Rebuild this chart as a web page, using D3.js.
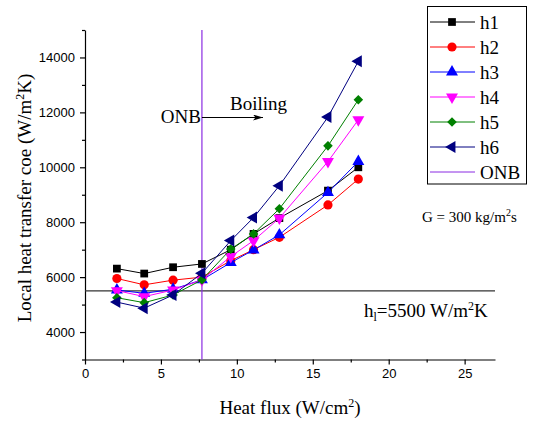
<!DOCTYPE html>
<html>
<head>
<meta charset="utf-8">
<script src="https://cdn.jsdelivr.net/npm/d3@7"></script>
<style>
  html, body { margin: 0; padding: 0; background: #fff; }
  svg { display: block; }
  .serif { font-family: "Liberation Serif", "Times New Roman", serif; fill: #000; }
  .tick text { font-family: "Liberation Sans", Arial, sans-serif; font-size: 13px; fill: #000; }
</style>
</head>
<body>
<svg id="chart" width="536" height="421"></svg>
<script>
// Heat flux (W/cm²) shared by all series
const heatFlux = [2.1, 3.9, 5.8, 7.7, 9.6, 11.1, 12.8, 16.0, 18.0];

// Local heat transfer coefficient (W/m²K) for each measuring position
const h1 = [6310, 6130, 6360, 6480, 7000, 7575, 8150, 9150, 10000];
const h2 = [5950, 5720, 5890, 6000, 6600, 7000, 7450, 8630, 9570];
const h3 = [5530, 5410, 5560, 5900, 6530, 6990, 7540, 9080, 10210];
const h4 = [5510, 5290, 5530, 5900, 6750, 7330, 8150, 10210, 11730];
const h5 = [5250, 5070, 5350, 5900, 7020, 7575, 8490, 10780, 12460];
const h6 = [5090, 4870, 5350, 6140, 7330, 8170, 9330, 11830, 13860];

const seriesNames = ["h1", "h2", "h3", "h4", "h5", "h6"];
const seriesValues = [h1, h2, h3, h4, h5, h6];
const seriesColors = ["#000000", "#ff0000", "#0000ff", "#ff00ff", "#008000", "#000080"];

const onbFlux = 7.7;       // onset of nucleate boiling
const hLiquid = 5500;      // single-phase liquid coefficient
const xTicks = [0, 5, 10, 15, 20, 25];
const yTicks = [4000, 6000, 8000, 10000, 12000, 14000];

const svg = d3.select("#chart");
const x = d3.scaleLinear().domain([0, 27]).range([85, 495]);
const y = d3.scaleLinear().domain([3000, 15000]).range([359.5, 30]);

// marker shapes: square, circle, up, down, diamond (square turned 45°), left-pointing triangle
const markers = [
  { type: d3.symbolSquare, size: 60, rot: 0 },
  { type: d3.symbolCircle, size: 66, rot: 0 },
  { type: d3.symbolTriangle, size: 62, rot: 0 },
  { type: d3.symbolTriangle, size: 62, rot: 180 },
  { type: d3.symbolSquare, size: 46, rot: 45 },
  { type: d3.symbolTriangle, size: 62, rot: -90 }
];

// axes
svg.append("g").attr("transform", `translate(0,${y(3000)})`)
  .call(d3.axisBottom(x).tickValues(xTicks).tickSize(5).tickSizeOuter(0).tickPadding(4));
svg.append("g").attr("transform", `translate(0,${y(3000)})`)
  .call(d3.axisBottom(x).tickValues([2.5, 7.5, 12.5, 17.5, 22.5]).tickSize(3).tickFormat("").tickSizeOuter(0))
  .select(".domain").remove();
svg.append("g").attr("transform", `translate(${x(0)},0)`)
  .call(d3.axisLeft(y).tickValues(yTicks).tickSize(5).tickSizeOuter(0).tickPadding(5).tickFormat(d3.format("d")));
svg.append("g").attr("transform", `translate(${x(0)},0)`)
  .call(d3.axisLeft(y).tickValues([3000, 5000, 7000, 9000, 11000, 13000, 15000]).tickSize(3).tickFormat("").tickSizeOuter(0))
  .select(".domain").remove();
svg.selectAll(".domain, .tick line").attr("stroke", "#000").attr("stroke-width", 1.2);

// horizontal reference line for liquid coefficient
svg.append("line")
  .attr("x1", x(0)).attr("x2", x(27))
  .attr("y1", y(hLiquid)).attr("y2", y(hLiquid))
  .attr("stroke", "#333").attr("stroke-width", 1.1);

// ONB vertical line
svg.append("line")
  .attr("x1", x(onbFlux)).attr("x2", x(onbFlux))
  .attr("y1", y(15000)).attr("y2", y(3000))
  .attr("stroke", "#8a2be2").attr("stroke-width", 1.2);

// series
const line = d3.line().x((d, i) => x(heatFlux[i])).y(d => y(d));
seriesValues.forEach((vals, k) => {
  svg.append("path")
    .attr("d", line(vals))
    .attr("fill", "none")
    .attr("stroke", seriesColors[k])
    .attr("stroke-width", 1);
  const m = markers[k];
  svg.append("g").selectAll("path")
    .data(vals)
    .join("path")
    .attr("d", d3.symbol().type(m.type).size(m.size))
    .attr("transform", (d, i) => `translate(${x(heatFlux[i])},${y(d)}) rotate(${m.rot})`)
    .attr("fill", seriesColors[k]);
});

// annotations
svg.append("text").attr("class", "serif").attr("font-size", 19)
  .attr("x", x(onbFlux) - 1).attr("y", 123).attr("text-anchor", "end").text("ONB");
svg.append("text").attr("class", "serif").attr("font-size", 19)
  .attr("x", 230).attr("y", 110).text("Boiling");
svg.append("defs").append("marker")
  .attr("id", "arrowhead").attr("viewBox", "0 0 10 6").attr("refX", 10).attr("refY", 3)
  .attr("markerWidth", 10).attr("markerHeight", 6).attr("markerUnits", "userSpaceOnUse")
  .attr("orient", "auto")
  .append("path").attr("d", "M0,0 L10,3 L0,6 L2.5,3 Z").attr("fill", "#000");
svg.append("line")
  .attr("x1", x(onbFlux)).attr("x2", 263).attr("y1", 117.5).attr("y2", 117.5)
  .attr("stroke", "#000").attr("stroke-width", 1).attr("marker-end", "url(#arrowhead)");

const gText = svg.append("text").attr("class", "serif").attr("font-size", 15)
  .attr("x", 422).attr("y", 222);
gText.append("tspan").text("G = 300 kg/m");
gText.append("tspan").attr("font-size", 10).attr("dy", -6).text("2");
gText.append("tspan").attr("dy", 6).text("s");

const hText = svg.append("text").attr("class", "serif").attr("font-size", 19)
  .attr("x", 364).attr("y", 317);
hText.append("tspan").text("h");
hText.append("tspan").attr("font-size", 12).attr("dy", 4).text("l");
hText.append("tspan").attr("dy", -4).text("=5500 W/m");
hText.append("tspan").attr("font-size", 12).attr("dy", -7).text("2");
hText.append("tspan").attr("dy", 7).text("K");

// axis titles
const xt = svg.append("text").attr("class", "serif").attr("font-size", 19)
  .attr("x", 290).attr("y", 414).attr("text-anchor", "middle");
xt.append("tspan").text("Heat flux (W/cm");
xt.append("tspan").attr("font-size", 12).attr("dy", -7).text("2");
xt.append("tspan").attr("dy", 7).text(")");

const yt = svg.append("text").attr("class", "serif").attr("font-size", 19)
  .attr("transform", "translate(31,198) rotate(-90)").attr("text-anchor", "middle");
yt.append("tspan").text("Local heat transfer coe (W/m");
yt.append("tspan").attr("font-size", 12).attr("dy", -7).text("2");
yt.append("tspan").attr("dy", 7).text("K)");

// legend
const legend = svg.append("g");
legend.append("rect").attr("x", 427.5).attr("y", 6.5).attr("width", 99).attr("height", 177.5)
  .attr("fill", "#fff").attr("stroke", "#000").attr("stroke-width", 1);
const legendItems = seriesNames.map((n, k) => ({ name: n, color: seriesColors[k], marker: markers[k] }))
  .concat([{ name: "ONB", color: "#8a2be2", marker: null }]);
legendItems.forEach((it, i) => {
  const ly = 22 + i * 25;
  legend.append("line").attr("x1", 430).attr("x2", 475).attr("y1", ly).attr("y2", ly)
    .attr("stroke", it.color).attr("stroke-width", 1);
  if (it.marker) {
    legend.append("path")
      .attr("d", d3.symbol().type(it.marker.type).size(it.marker.size))
      .attr("transform", `translate(452,${ly}) rotate(${it.marker.rot})`)
      .attr("fill", it.color);
  }
  legend.append("text").attr("class", "serif").attr("font-size", 19)
    .attr("x", 480).attr("y", ly + 6.5).text(it.name);
});
</script>
</body>
</html>
